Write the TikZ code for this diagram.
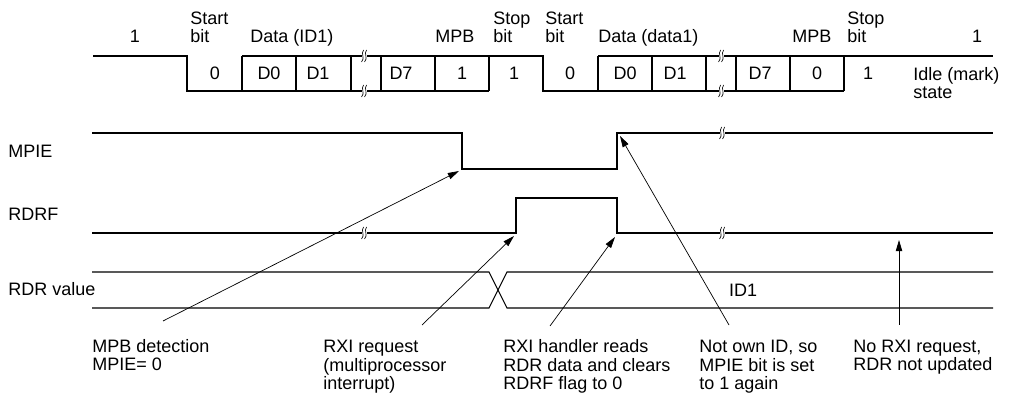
\documentclass[tikz,border=0pt]{standalone}
\usepackage{fontspec}
\setmainfont{Liberation Sans}
\usetikzlibrary{arrows.meta}
\newcommand\brkmark[2]{%
  \fill[white] (#1-2.5,#2-4) rectangle (#1+2.5,#2+4);
  \draw[line width=0.45pt] (#1-0.5,#2-6) .. controls (#1-3.5,#2-2) and (#1+1.5,#2+2) .. (#1-2.5,#2+6);
  \draw[line width=0.45pt] (#1+2.5,#2-6) .. controls (#1-0.5,#2-2) and (#1+4.5,#2+2) .. (#1+0.5,#2+6);
}
\begin{document}
\begin{tikzpicture}[x=0.025cm,y=-0.025cm,
  wave/.style={line width=0.75pt},
  arr/.style={line width=0.5pt,-{Triangle[length=8pt,width=4.6pt]}},
  lbl/.style={inner sep=0pt,anchor=base west,font=\fontsize{12.8}{13.4}\selectfont,align=left},
  note/.style={inner sep=0pt,anchor=base west,font=\fontsize{12.8}{13.5}\selectfont,align=left},
  val/.style={inner sep=0pt,anchor=base,font=\fontsize{12.8}{13}\selectfont}]
\useasboundingbox (0,0) rectangle (1016,398);
% ---------- serial frame ----------
\draw[wave] (93,56) -- (187,56) -- (187,91) -- (489,91);
\draw[wave] (242,56) -- (543,56) -- (543,91) -- (844,91);
\draw[wave] (598,56) -- (993,56);
\foreach \x in {242,296,351,381,435,489,598,652,706,736,790,844}
  \draw[wave] (\x,56) -- (\x,91);
\brkmark{364}{56}\brkmark{364}{91}
\brkmark{721}{56}\brkmark{721}{91}
% labels above (base = baseline of last line)
\node[val] (one1) at (135,43) {1};
\node[lbl] (st1) at (190,43) {Start\\bit};
\node[lbl] (dat1) at (250,43) {Data (ID1)};
\node[lbl] (mpb1) at (435,43) {MPB};
\node[lbl] (sp1) at (493,43) {Stop\\bit};
\node[lbl] (st2) at (545,43) {Start\\bit};
\node[lbl] (dat2) at (598,43) {Data (data1)};
\node[lbl] (mpb2) at (792,43) {MPB};
\node[lbl] (sp2) at (847,43) {Stop\\bit};
\node[val] (one2) at (977,43) {1};
% bit values
\node[val] (b1) at (215,80) {0};
\node[val] (b2) at (269,80) {D0};
\node[val] (b3) at (318,80) {D1};
\node[val] (b4) at (401,80) {D7};
\node[val] (b5) at (462,80) {1};
\node[val] (b6) at (514,80) {1};
\node[val] (b7) at (570,80) {0};
\node[val] (b8) at (625,80) {D0};
\node[val] (b9) at (675,80) {D1};
\node[val] (b10) at (760,80) {D7};
\node[val] (b11) at (817,80) {0};
\node[val] (b12) at (868,80) {1};
\node[lbl,font=\fontsize{12.8}{13}\selectfont] (idle) at (913,99) {Idle (mark)\\state};
% ---------- signals ----------
\node[lbl] (mpie) at (8,158) {MPIE};
\node[lbl] (rdrf) at (8,221) {RDRF};
\node[lbl] (rdr) at (8,296) {RDR value};
\draw[wave] (92,133) -- (462,133) -- (462,169) -- (617,169) -- (617,133) -- (993,133);
\brkmark{722}{133}
\draw[wave] (92,233) -- (516,233) -- (516,198) -- (617,198) -- (617,233) -- (993,233);
\brkmark{364}{233}\brkmark{722}{233}
\draw[wave] (92,272) -- (489,272) -- (507,308) -- (993,308);
\draw[wave] (92,308) -- (489,308) -- (507,272) -- (993,272);
\node[val] (id1) at (743,297) {ID1};
% ---------- annotations ----------
\node[note] (n1) at (92,371) {MPB detection\\MPIE= 0};
\node[note] (n2) at (323,390) {RXI request\\(multiprocessor\\interrupt)};
\node[note] (n3) at (503,390) {RXI handler reads\\RDR data and clears\\RDRF flag to 0};
\node[note] (n4) at (699,390) {Not own ID, so\\MPIE bit is set\\to 1 again};
\node[note] (n5) at (853,371) {No RXI request,\\RDR not updated};
\coordinate (s1) at (163,321); \coordinate (t1) at (459,171);
\coordinate (s2) at (422,325); \coordinate (t2) at (514,236);
\coordinate (s3) at (550,326); \coordinate (t3) at (615,237);
\coordinate (s4) at (729,325); \coordinate (t4) at (620,136);
\coordinate (s5) at (899,325); \coordinate (t5) at (899,240);
\draw[arr] (s1) -- (t1);
\draw[arr] (s2) -- (t2);
\draw[arr] (s3) -- (t3);
\draw[arr] (s4) -- (t4);
\draw[arr] (s5) -- (t5);
\end{tikzpicture}
\end{document}
